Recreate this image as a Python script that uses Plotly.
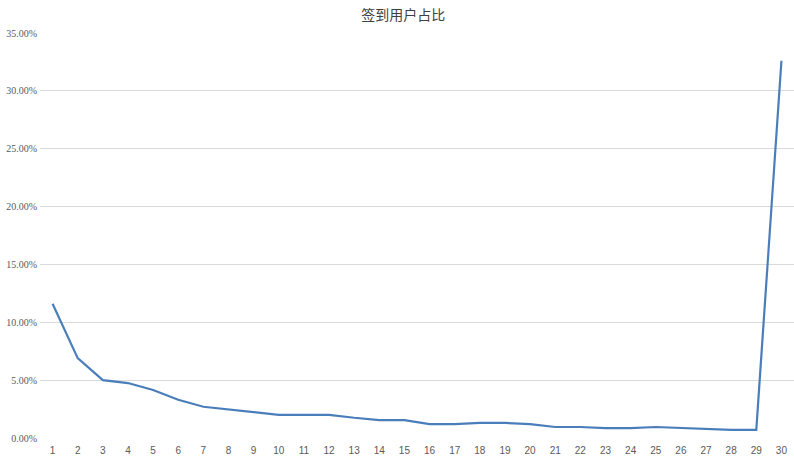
import plotly.graph_objects as go

days = list(range(1, 31))
ratio = [11.6, 6.9, 5.0, 4.75, 4.15, 3.3, 2.7, 2.45, 2.2, 2.0,
         2.0, 2.0, 1.75, 1.55, 1.55, 1.2, 1.2, 1.3, 1.3, 1.2,
         0.95, 0.95, 0.85, 0.85, 0.95, 0.85, 0.75, 0.7, 0.7, 32.6]
y_ticks = [0, 5, 10, 15, 20, 25, 30, 35]
y_labels = ["%.2f%%" % v for v in y_ticks]

fig = go.Figure()
fig.add_trace(go.Scatter(
    x=days, y=ratio, mode="lines",
    line=dict(color="#4a7ebb", width=2.2),
    hovertemplate="%{x}: %{y:.2f}%<extra></extra>",
))

fig.update_layout(
    width=794, height=456,
    margin=dict(l=40, r=0, t=33, b=18, autoexpand=False),
    paper_bgcolor="white", plot_bgcolor="white",
    showlegend=False,
    title=dict(text="签到用户占比", x=0.508, xanchor="center", y=0.978, yanchor="top",
               font=dict(family="Noto Sans CJK SC", size=14, color="#404040")),
    font=dict(family="Liberation Sans", size=10, color="#595959"),
)
fig.update_xaxes(
    range=[0.5, 30.5], tickmode="array", tickvals=days, ticktext=[str(d) for d in days],
    showgrid=False, zeroline=False, showline=False, ticks="", automargin=False,
    ticklabelstandoff=5,
    tickfont=dict(size=10, color="#595959"),
)
fig.update_yaxes(
    range=[0, 35], tickmode="array", tickvals=y_ticks, ticktext=y_labels,
    showgrid=True, gridcolor="#d9d9d9", gridwidth=1, zeroline=False, showline=False,
    automargin=False, ticklabelstandoff=2,
    tickfont=dict(family="Liberation Serif", size=10, color="#595959"),
)

# page has a default 8px body margin; drop it so the figure sits at the corner
fig.write_html("out.html", config={"displayModeBar": False},
               post_script="document.body.style.margin='0';")
